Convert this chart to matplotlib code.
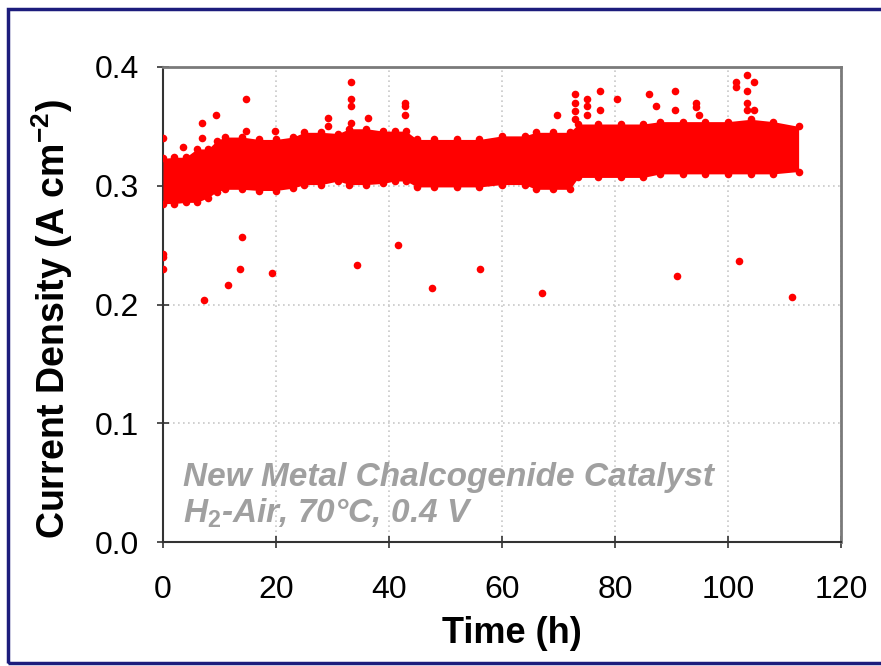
import matplotlib
matplotlib.use('Agg')
import matplotlib.pyplot as plt
from matplotlib.patches import Rectangle

plt.rcParams['font.family'] = ['Liberation Sans', 'DejaVu Sans']
plt.rcParams['mathtext.fontset'] = 'custom'
plt.rcParams['mathtext.rm'] = 'Liberation Sans'
plt.rcParams['mathtext.it'] = 'Liberation Sans:italic:bold'
plt.rcParams['mathtext.bf'] = 'Liberation Sans:bold'

# main band of the record (upper / lower edge of the dense cloud), read per segment
band_t = [0, 2, 4, 6, 8, 9.5, 11, 14, 17, 20, 23, 25, 28, 31, 33, 36, 39, 41, 43,
          45, 48, 52, 56, 60, 64, 66, 69, 72, 73.5, 77, 81, 85, 88, 92, 96, 100,
          104, 108, 112.5]
band_hi = [0.323, 0.324, 0.324, 0.331, 0.331, 0.338, 0.341, 0.341, 0.339, 0.339,
           0.341, 0.345, 0.345, 0.344, 0.348, 0.348, 0.346, 0.346, 0.346, 0.339,
           0.339, 0.339, 0.339, 0.342, 0.342, 0.345, 0.345, 0.345, 0.352, 0.352,
           0.352, 0.352, 0.354, 0.354, 0.354, 0.354, 0.356, 0.354, 0.350]
band_lo = [0.285, 0.285, 0.286, 0.286, 0.290, 0.295, 0.297, 0.297, 0.296, 0.296,
           0.298, 0.301, 0.301, 0.304, 0.301, 0.301, 0.302, 0.304, 0.304, 0.299,
           0.299, 0.299, 0.299, 0.301, 0.301, 0.297, 0.297, 0.297, 0.307, 0.307,
           0.307, 0.307, 0.310, 0.310, 0.310, 0.310, 0.310, 0.310, 0.312]

# isolated points above the band
spike_t = [0.05, 3.6, 6.9, 6.9, 9.4, 14.7, 14.7, 19.8, 29.2, 29.2, 33.2, 33.2, 33.2,
           33.2, 36.2, 42.9, 42.9, 42.9, 69.7, 73.0, 73.0, 73.0, 73.0, 75.1, 75.1,
           75.1, 77.3, 77.3, 80.3, 86.0, 87.3, 90.6, 90.6, 94.3, 94.3, 94.9, 101.4,
           101.4, 103.4, 104.6, 103.4, 103.4, 103.4, 104.6]
spike_j = [0.340, 0.333, 0.353, 0.340, 0.360, 0.373, 0.346, 0.346, 0.357, 0.350,
           0.387, 0.373, 0.367, 0.353, 0.357, 0.370, 0.367, 0.360, 0.360, 0.377,
           0.370, 0.363, 0.356, 0.373, 0.367, 0.360, 0.380, 0.364, 0.373, 0.377,
           0.367, 0.380, 0.364, 0.370, 0.366, 0.360, 0.387, 0.383, 0.393, 0.387,
           0.380, 0.370, 0.364, 0.364]

# isolated low points
low_t = [0.0, 0.0, 0.0, 7.2, 11.5, 13.9, 13.7, 19.3, 34.3, 41.6, 47.6, 56.1, 67.1,
         90.9, 102.0, 111.4]
low_j = [0.2425, 0.240, 0.230, 0.2035, 0.2167, 0.2568, 0.230, 0.2268, 0.2333,
         0.2497, 0.2135, 0.230, 0.210, 0.2236, 0.2368, 0.2067]

red = '#ff0000'
fig = plt.figure(figsize=(8.81, 6.66), dpi=100)
fig.patches.append(Rectangle((8 / 881, 3 / 666), 1.2, 654 / 666, transform=fig.transFigure,
                             fill=False, edgecolor='#1c1c7c', linewidth=2.5))
ax = fig.add_axes([163 / 881, 1 - 542 / 666, 678 / 881, 475 / 666])

ax.fill_between(band_t, band_lo, band_hi, color=red, linewidth=0, zorder=3)
ax.scatter(band_t, band_hi, s=30, color=red, linewidths=0, zorder=3)
ax.scatter(band_t, band_lo, s=30, color=red, linewidths=0, zorder=3)
ax.scatter(spike_t, spike_j, s=30, color=red, linewidths=0, zorder=3)
ax.scatter(low_t, low_j, s=30, color=red, linewidths=0, zorder=3)

ax.set_xlim(0, 120)
ax.set_ylim(0, 0.4)
ax.set_xticks(range(0, 121, 20))
ax.set_yticks([0.0, 0.1, 0.2, 0.3, 0.4])
ax.set_yticklabels(['0.0', '0.1', '0.2', '0.3', '0.4'])
ax.grid(True, linestyle=(0, (1, 2)), color='#c8c8c8', linewidth=1.2, zorder=1)
ax.set_axisbelow(True)

for side in ['top', 'right']:
    ax.spines[side].set_color('#7a7a7a')
    ax.spines[side].set_linewidth(2)
for side in ['left', 'bottom']:
    ax.spines[side].set_color('#333333')
    ax.spines[side].set_linewidth(1.5)

ax.tick_params(axis='both', direction='inout', length=8, width=1.2, color='#333333',
               labelsize=23)
ax.tick_params(axis='y', pad=13)
ax.tick_params(axis='x', pad=20)

ax.set_xlabel('Time (h)', fontsize=26, fontweight='bold')
ax.xaxis.set_label_coords(0.515, -0.155)
ax.set_ylabel(r'Current Density (A cm$^{\mathbf{-2}}$)', fontsize=27,
              fontweight='bold')
ax.yaxis.set_label_coords(-0.13, 0.47)

ax.text(0.03, 0.118, 'New Metal Chalcogenide Catalyst', transform=ax.transAxes,
        fontsize=24, fontweight='bold', fontstyle='italic', color='#a0a0a0')
ax.text(0.03, 0.04, r'H$_{\mathbf{2}}$-Air, 70°C, 0.4 V', transform=ax.transAxes,
        fontsize=24, fontweight='bold', fontstyle='italic', color='#a0a0a0')

fig.savefig('out.png', dpi=100)
